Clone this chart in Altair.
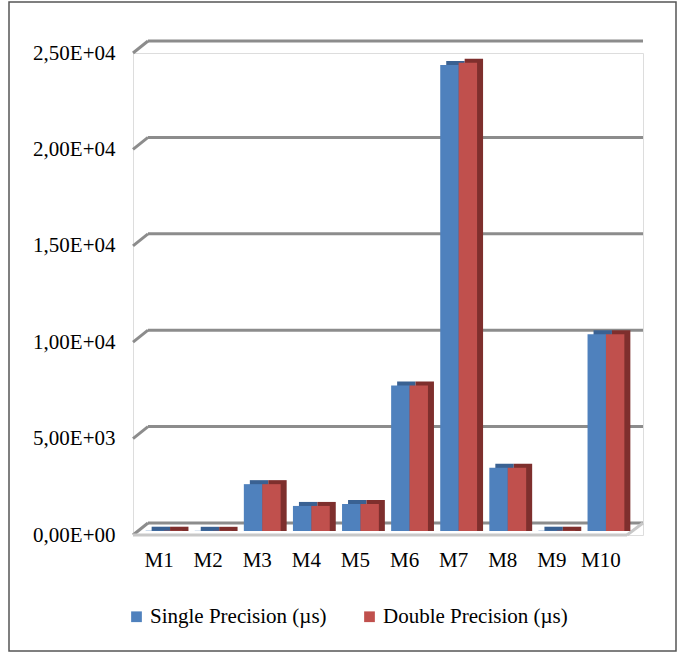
import altair as alt
import pandas as pd

categories = ["M1", "M2", "M3", "M4", "M5", "M6", "M7", "M8", "M9", "M10"]
single_vals = [15, 10, 2430, 1300, 1400, 7550, 24170, 3280, 15, 10200]
double_vals = [15, 10, 2430, 1300, 1400, 7550, 24290, 3280, 15, 10200]
series_names = ["Single Precision  (\u00b5s)", "Double Precision (\u00b5s)"]
series_colors = ["#4F81BD", "#C0504D"]
shadow_colors = ["#3A6192", "#7E2F2D"]
tick_values = [0, 5000, 10000, 15000, 20000, 25000]
tick_labels = ["0,00E+00", "5,00E+03", "1,00E+04", "1,50E+04", "2,00E+04", "2,50E+04"]

rows = []
for c, s, d in zip(categories, single_vals, double_vals):
    rows.append({"cat": c, "series": series_names[0], "value": s})
    rows.append({"cat": c, "series": series_names[1], "value": d})
df = pd.DataFrame(rows)
grid_df = pd.DataFrame({"v": tick_values})
zero_df = pd.DataFrame({"v": [0]})

label_expr = ""
for v, l in zip(tick_values, tick_labels):
    label_expr += f"datum.value == {v} ? '{l}' : "
label_expr += "''"

W, H = 510, 482
FONT = "Liberation Serif"
BW = 491 / 10 * 0.75  # band width of each category group

yscale = alt.Scale(domain=[0, 25000], nice=False)
xscale = alt.Scale(domain=categories, range=[6.5, 497.5], paddingInner=0.25, paddingOuter=0.125)

frame = alt.Chart(zero_df).mark_rect(fill=None, stroke="#555555", strokeWidth=1.5).encode(
    x=alt.value(-124), x2=alt.value(543), y=alt.value(-51), y2=alt.value(598)
)

grid_h = alt.Chart(grid_df).mark_rule(color="#8C8C8C", strokeWidth=3, yOffset=-12).encode(
    x=alt.value(15), x2=alt.value(W),
    y=alt.Y("v:Q", scale=yscale, axis=alt.Axis(
        values=tick_values, labelExpr=label_expr, domain=False, ticks=False, grid=False,
        labelFont=FONT, labelFontSize=21, labelColor="#000000", labelPadding=18, title=None)),
)
grid_d = alt.Chart(grid_df).mark_rule(color="#8C8C8C", strokeWidth=3, y2Offset=-12).encode(
    x=alt.value(0), x2=alt.value(15),
    y=alt.Y("v:Q", scale=yscale), y2="v:Q",
)
floor_front = alt.Chart(zero_df).mark_rule(color="#C8C8C8", strokeWidth=3).encode(
    x=alt.value(0), x2=alt.value(494), y=alt.Y("v:Q", scale=yscale)
)
floor_side = alt.Chart(zero_df).mark_rule(color="#C8C8C8", strokeWidth=3, y2Offset=-12).encode(
    x=alt.value(494), x2=alt.value(W), y=alt.Y("v:Q", scale=yscale), y2="v:Q"
)

xenc = alt.X("cat:N", scale=xscale, sort=categories, axis=alt.Axis(
    domain=False, ticks=False, labelAngle=0, labelFont=FONT, labelFontSize=21,
    labelColor="#000000", labelPadding=14, labelOffset=-5, title=None))

shadow = alt.Chart(df).mark_bar(yOffset=-8, y2Offset=-4).encode(
    x=xenc,
    xOffset=alt.XOffset("series:N", sort=series_names,
                        scale=alt.Scale(domain=series_names, range=[6, BW + 6])),
    y=alt.Y("value:Q", scale=yscale),
    y2=alt.datum(0),
    color=alt.Color("series:N", scale=alt.Scale(domain=series_names, range=shadow_colors), legend=None),
)
front = alt.Chart(df).mark_bar(yOffset=-4, y2Offset=-4).encode(
    x=xenc,
    xOffset=alt.XOffset("series:N", sort=series_names,
                        scale=alt.Scale(domain=series_names, range=[0, BW])),
    y=alt.Y("value:Q", scale=yscale),
    y2=alt.datum(0),
    fill=alt.Fill("series:N", scale=alt.Scale(domain=series_names, range=series_colors),
                  sort=series_names,
                  legend=alt.Legend(orient="none", legendX=-7, legendY=553, direction="horizontal",
                                    title=None, symbolType="square", symbolSize=115,
                                    symbolStrokeWidth=0, labelFont=FONT, labelFontSize=21,
                                    labelColor="#000000", labelOffset=3, columnPadding=27,
                                    labelLimit=0, padding=0)),
)

chart = alt.layer(frame, grid_d, grid_h, floor_front, floor_side, shadow, front).resolve_scale(
    color="independent", xOffset="independent"
).properties(
    width=W, height=H,
    autosize=alt.AutoSizeParams(type="none"),
    padding={"left": 133, "top": 53, "right": 40, "bottom": 118},
    background="#FFFFFF",
).configure_view(stroke=None).configure(font=FONT)

chart.save("out.html", embed_options={"renderer": "svg", "actions": False})
